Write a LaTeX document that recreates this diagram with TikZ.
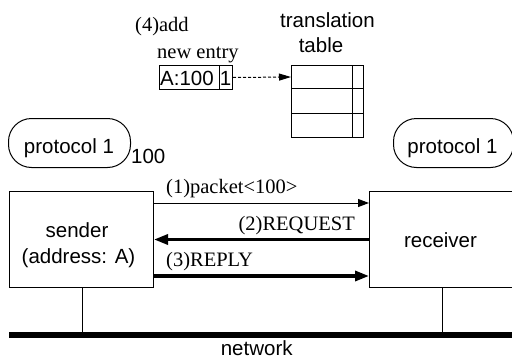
\documentclass[tikz,border=0pt]{standalone}
\usepackage{fontspec}
\setmainfont{Liberation Serif}
\setsansfont{Liberation Sans}
\usetikzlibrary{arrows.meta,calc}
\begin{document}
\begin{tikzpicture}[x=1pt,y=-1pt,
  sf/.style={font=\sffamily\fontsize{20.5}{24}\selectfont, inner sep=0pt},
  rm/.style={font=\rmfamily\fontsize{20.5}{24}\selectfont, inner sep=0pt},
  box/.style={draw, line width=1pt, inner sep=0pt, anchor=north west},
  protoshape/.style={box, rounded corners=23pt},
  thinline/.style={line width=1pt},
  thinarrow/.style={line width=1pt, -{Triangle[length=11pt,width=8pt]}},
  thickarrow/.style={line width=3.2pt, -{Triangle[length=14pt,width=10pt]}},
  dasharrow/.style={line width=1pt, dash pattern=on 3pt off 2pt, -{Triangle[length=12pt,width=7pt]}}
]
\useasboundingbox (0,0) rectangle (512,359);
\clip (0,0) rectangle (512,359);

% top: new entry and translation table
\node[rm, anchor=base west] (addlbl) at (135,31) {(4)add};
\node[rm, anchor=base west] (newlbl) at (157,58) {new entry};
\node[box, minimum width=73pt, minimum height=24pt] (entry) at (159,65) {};
\draw[thinline] ($(entry.north west)+(60,0)$) coordinate (ediv) -- (ediv |- entry.south);
\node[sf, anchor=base west] (entrya) at (160,85) {A:100};
\node[sf, anchor=base] (entryb) at (225.5,85) {1};

\node[sf, anchor=base] (trlbl) at (327.5,27) {translation};
\node[sf, anchor=base] (tblbl) at (321,52) {table};
\node[box, minimum width=72pt, minimum height=72pt] (tbl) at (291,65) {};
\draw[thinline] ($(tbl.north west)+(0,23.5)$) coordinate (r1) -- (r1 -| tbl.east);
\draw[thinline] ($(tbl.north west)+(0,48)$) coordinate (r2) -- (r2 -| tbl.east);
\draw[thinline] ($(tbl.north west)+(61,0)$) coordinate (c1) -- (c1 |- tbl.south);
\draw[dasharrow] (entry.east) -- ($(tbl.north west)+(0,12)$);

% protocols
\node[protoshape, minimum width=122pt, minimum height=49pt] (p1) at (8,118) {};
\node[sf, anchor=base] (p1t) at (69,153) {protocol 1};
\node[sf, anchor=base west] (hundred) at (131,163) {100};
\node[protoshape, minimum width=120pt, minimum height=49pt] (p2) at (393,118) {};
\node[sf, anchor=base] (p2t) at (452.5,153) {protocol 1};

% sender / receiver
\node[box, minimum width=144pt, minimum height=96pt] (sender) at (9,191) {};
\node[sf, anchor=base] (s1) at (77,237) {sender};
\node[sf, anchor=base] (s2) at (78.5,263) {(address: A)};
\node[box, minimum width=151pt, minimum height=96pt] (receiver) at (369,191) {};
\node[sf, anchor=base] (rt) at (440.5,247) {receiver};

% messages
\draw[thinarrow] ($(sender.north east)+(0,12)$) -- ($(receiver.north west)+(0,12)$);
\node[rm, anchor=base west] (m1) at (166,193) {(1)packet\textless 100\textgreater};
\draw[thickarrow] (receiver.west) -- (sender.east);
\node[rm, anchor=base east] (m2) at (355,230) {(2)REQUEST};
\draw[thickarrow] ($(sender.south east)+(0,-12)$) -- ($(receiver.south west)+(0,-12)$);
\node[rm, anchor=base west] (m3) at (166,266) {(3)REPLY};

% network
\coordinate (netl) at (9,335);
\coordinate (netr) at (520,335);
\draw[line width=5.5pt] (netl) -- (netr);
\draw[thinline] ($(sender.south west)+(73,0)$) coordinate (sd) -- (sd |- netl);
\draw[thinline] ($(receiver.south west)+(73,0)$) coordinate (rd) -- (rd |- netl);
\node[sf, anchor=base] (netlbl) at (256.7,355) {network};
\end{tikzpicture}
\end{document}
